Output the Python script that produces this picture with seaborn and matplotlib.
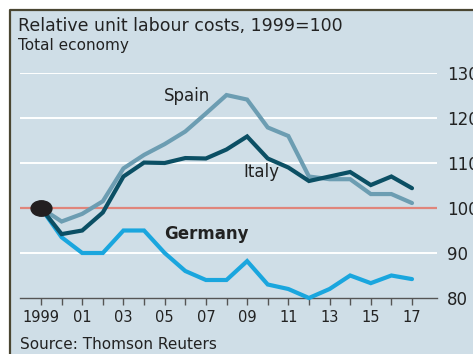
import numpy as np
import pandas as pd
import matplotlib
matplotlib.use("Agg")
import matplotlib.pyplot as plt
import seaborn as sns
from matplotlib.lines import Line2D
from matplotlib.patches import Rectangle
from matplotlib.path import Path
from matplotlib.transforms import Affine2D

# Relative unit labour costs, total economy (1999 = 100)
years = list(range(1999, 2018))
spain = [100, 97, 98.7, 101.5, 108.8, 111.8, 114.2, 117, 121, 125.1, 124.1,
         117.9, 116, 107, 106.4, 106.4, 103.1, 103.1, 101.1]
italy = [100, 94.2, 95, 99, 107, 110.1, 110, 111.1, 111, 113, 115.9,
         111, 109, 106, 107, 108, 105.1, 107, 104.4]
germany = [100, 93.5, 90, 90, 95, 95, 90, 86, 84, 84, 88.2,
           83, 82, 80, 82, 85, 83.3, 85, 84.2]
yticks = [80, 90, 100, 110, 120, 130]
xtick_labels = ["1999", "01", "03", "05", "07", "09", "11", "13", "15", "17"]

df = pd.DataFrame({
    "year": years * 3,
    "value": spain + italy + germany,
    "country": ["Spain"] * len(years) + ["Italy"] * len(years) + ["Germany"] * len(years),
})

sns.set_theme(style="white")
plt.rcParams["font.family"] = ["DejaVu Sans"]

W, H = 473, 354
fig = plt.figure(figsize=(W / 100, H / 100), dpi=100, facecolor="white")

bg = "#cfdee7"
fig.add_artist(Rectangle((10 / W, 0), 1, 1 - 10 / H, transform=fig.transFigure,
                         facecolor=bg, edgecolor="none", zorder=-10))
fig.add_artist(Line2D([9.5 / W, 9.5 / W, 1], [0, 1 - 9.5 / H, 1 - 9.5 / H],
                      transform=fig.transFigure, color="#4a4632", lw=1.6))

left, right = 20 / W, 437 / W
bottom, top = (H - 298) / H, (H - 73) / H
ax = fig.add_axes([left, bottom, right - left, top - bottom])
ax.set_facecolor("none")

x_per_year = (412 - 41) / 18
ax.set_xlim(1999 - 21 / x_per_year, 2017 + 25 / x_per_year)
ax.set_ylim(80, 130)

for v in yticks[1:]:
    ax.axhline(v, color="white", lw=1.4, zorder=1)
ax.axhline(100, color="#e0857b", lw=1.6, zorder=2)

palette = {"Spain": "#6c9db2", "Italy": "#0b4f64", "Germany": "#1aa6de"}
for name in ["Germany", "Spain", "Italy"]:
    sns.lineplot(data=df[df["country"] == name], x="year", y="value", color=palette[name],
                 lw=3.0, ax=ax, legend=False, zorder=4, clip_on=False,
                 solid_joinstyle="miter")

# index base point
ellipse = Path.unit_circle().transformed(Affine2D().scale(1, 0.74))
ax.plot([years[0]], [germany[0]], marker=ellipse, markersize=15, color="#231f20",
        zorder=6, clip_on=False, linestyle="none")

for s in ["left", "right", "top"]:
    ax.spines[s].set_visible(False)
ax.spines["bottom"].set_color("#555555")
ax.spines["bottom"].set_linewidth(1.0)

ax.set_xticks(years)
labels = []
it = iter(xtick_labels)
for i, y in enumerate(years):
    labels.append(next(it) if i % 2 == 0 else "")
ax.set_xticklabels(labels, fontsize=10.5, color="#222222")
ax.tick_params(axis="x", direction="out", length=5, width=1, color="#555555", pad=4, bottom=True)

ax.yaxis.tick_right()
ax.set_yticks(yticks)
ax.set_yticklabels([str(v) for v in yticks], fontsize=12, color="#222222")
ax.tick_params(axis="y", length=0, pad=7)
ax.set_xlabel("")
ax.set_ylabel("")

ax.text(2006.1, 124.8, "Spain", fontsize=12, color="#222222", ha="center", va="center")
ax.text(2009.7, 108.0, "Italy", fontsize=12, color="#222222", ha="center", va="center")
ax.text(2007.0, 94.2, "Germany", fontsize=12, fontweight="bold", color="#222222",
        ha="center", va="center")

fig.text(18 / W, 1 - 31 / H, "Relative unit labour costs, 1999=100", fontsize=12.5,
         color="#222222", ha="left", va="baseline")
fig.text(18 / W, 1 - 50 / H, "Total economy", fontsize=11, color="#222222",
         ha="left", va="baseline")
fig.text(20 / W, 1 - 349 / H, "Source: Thomson Reuters", fontsize=11,
         color="#222222", ha="left", va="baseline")

fig.savefig("out.png", dpi=100, facecolor=fig.get_facecolor())
